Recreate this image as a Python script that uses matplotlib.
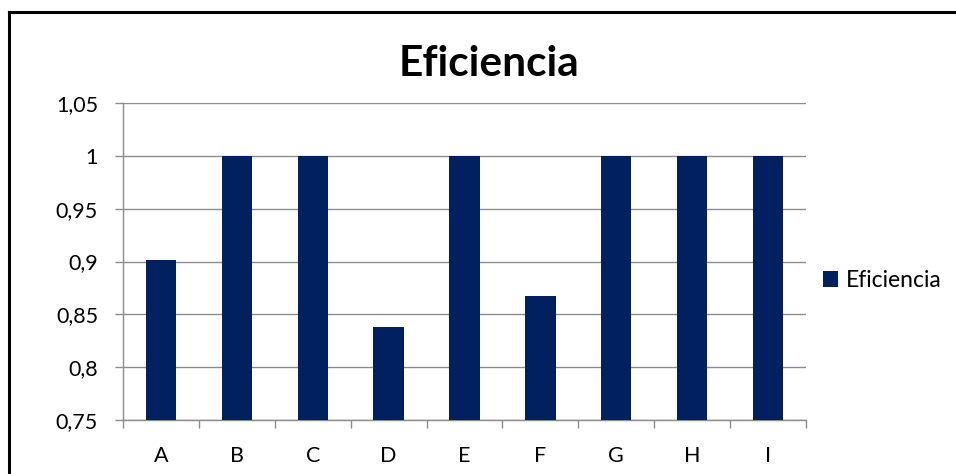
import matplotlib
matplotlib.use("Agg")
import matplotlib.pyplot as plt
from matplotlib.lines import Line2D
from matplotlib.ticker import FixedLocator, NullFormatter
import numpy as np

# -------------------------- Data --------------------------

categories = ["A", "B", "C", "D", "E", "F", "G", "H", "I"]
eficiencia = [0.901, 1.0, 1.0, 0.838, 1.0, 0.867, 1.0, 1.0, 1.0]
y_ticks = [0.75, 0.8, 0.85, 0.9, 0.95, 1.0, 1.05]
y_tick_labels = ["0,75", "0,8", "0,85", "0,9", "0,95", "1", "1,05"]

BAR_COLOR = "#002060"
GRID_COLOR = "#8c8c8c"
FS = 15.5

plt.rcParams["font.family"] = ["Lato", "DejaVu Sans"]

# -------------------------- Figure --------------------------

fig = plt.figure(figsize=(9.56, 4.74), dpi=100)
ax = fig.add_axes([0.1287, 0.1139, 0.7144, 0.6688])

x = np.arange(len(categories))
ax.bar(x, eficiencia, width=0.4, color=BAR_COLOR, label="Eficiencia", zorder=3)

ax.set_xlim(-0.5, len(categories) - 0.5)
ax.set_ylim(0.75, 1.05)

ax.set_yticks(y_ticks)
ax.set_yticklabels(y_tick_labels, fontsize=FS)
ax.grid(axis="y", color=GRID_COLOR, linewidth=1.0, zorder=0)

# category labels in the middle, tick marks on the boundaries
ax.set_xticks(x)
ax.set_xticklabels(categories, fontsize=FS)
ax.tick_params(axis="x", which="major", length=0, pad=19)
ax.xaxis.set_minor_locator(FixedLocator(np.arange(-0.5, len(categories), 1.0)))
ax.xaxis.set_minor_formatter(NullFormatter())
ax.tick_params(axis="x", which="minor", length=6, color=GRID_COLOR, width=1.0)
ax.tick_params(axis="y", length=6, color=GRID_COLOR, width=1.0, pad=12)

for side in ("top", "right"):
    ax.spines[side].set_visible(False)
for side in ("left", "bottom"):
    ax.spines[side].set_color(GRID_COLOR)
    ax.spines[side].set_linewidth(1.0)

fig.text(0.511, 0.866, "Eficiencia", fontsize=30.5, fontweight="bold",
         ha="center", va="center")

ax.legend(loc="center left", bbox_to_anchor=(0.995, 0.44), frameon=False,
          fontsize=16.5, handlelength=0.65, handleheight=0.65, handletextpad=0.35)

# chart frame
fig.add_artist(Line2D([0.0094, 1.0], [0.9747, 0.9747], color="black",
                      linewidth=2.2, transform=fig.transFigure))
fig.add_artist(Line2D([0.0094, 0.0094], [0.0, 0.9747], color="black",
                      linewidth=2.2, transform=fig.transFigure))

fig.savefig("out.png", dpi=100)
